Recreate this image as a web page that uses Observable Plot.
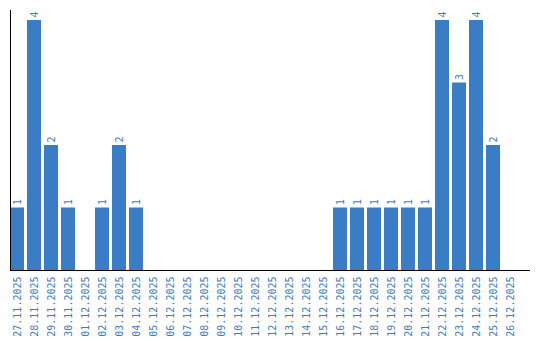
<!DOCTYPE html>
<html>
<head>
<meta charset="utf-8">
<script src="https://cdn.jsdelivr.net/npm/d3@7"></script>
<script src="https://cdn.jsdelivr.net/npm/@observablehq/plot@0.6"></script>
<style>
  html, body { margin: 0; padding: 0; background: #fff; }
</style>
</head>
<body>
<div id="chart"></div>
<script>
const dates = [
  "27.11.2025","28.11.2025","29.11.2025","30.11.2025","01.12.2025","02.12.2025",
  "03.12.2025","04.12.2025","05.12.2025","06.12.2025","07.12.2025","08.12.2025",
  "09.12.2025","10.12.2025","11.12.2025","12.12.2025","13.12.2025","14.12.2025",
  "15.12.2025","16.12.2025","17.12.2025","18.12.2025","19.12.2025","20.12.2025",
  "21.12.2025","22.12.2025","23.12.2025","24.12.2025","25.12.2025","26.12.2025"
];
const counts = [1,4,2,1,0,1,2,1,0,0,0,0,0,0,0,0,0,0,0,1,1,1,1,1,1,4,3,4,2,0];

const data = dates.map((d, i) => ({date: d, count: counts[i]}));
const blue = "#3b7dc4";

const chart = Plot.plot({
  width: 540,
  height: 340,
  marginLeft: 10,
  marginRight: 10,
  marginTop: 10,
  marginBottom: 70,
  style: {fontFamily: "'DejaVu Sans Mono', monospace", fontSize: "10px", color: blue, background: "#fff"},
  x: {domain: dates, range: [10, 517], paddingInner: 0.18, paddingOuter: 0, label: null},
  y: {domain: [0, 4.16], axis: null},
  marks: [
    Plot.barY(data, {x: "date", y: "count", fill: blue}),
    Plot.text(data.filter(d => d.count > 0), {
      x: "date", y: "count", text: d => String(d.count),
      rotate: -90, textAnchor: "start", dy: -3, fill: blue
    }),
    Plot.axisX({tickRotate: -90, tickSize: 0, tickPadding: 6, fill: blue, label: null}),
    Plot.ruleY([0], {stroke: "#000"}),
    Plot.frame({anchor: "left", stroke: "#000"})
  ]
});
document.getElementById("chart").append(chart);
</script>
</body>
</html>
